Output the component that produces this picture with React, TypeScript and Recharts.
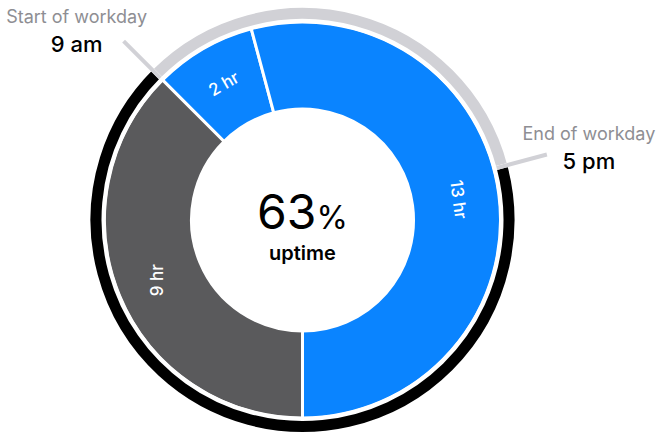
import { PieChart, Pie, Cell, Label } from 'recharts';

// inner donut: hours of the day, clockwise from 9 am
const segmentLabels = ['2 hr', '13 hr', '9 hr'];
const segmentHours = [2, 13, 9];
const segmentUp = [true, true, false];

// outer ring: workday vs the rest of the day
const ringNames = ['workday', 'off'];
const ringHours = [8, 16];

const markerCaptions = ['Start of workday', 'End of workday'];
const markerTimes = ['9 am', '5 pm'];

const uptimePct = 63;

const BLUE = '#0A84FF';
const DARK = '#5A5A5C';
const LIGHT = '#D1D1D6';
const CAPTION = '#8E8E93';
const FONT = 'Inter, "Liberation Sans", sans-serif';
const RAD = Math.PI / 180;

const CX = 302.5;
const CY = 220;

const segments = segmentLabels.map((name, i) => ({ name, value: segmentHours[i], up: segmentUp[i] }));
const ring = ringNames.map((name, i) => ({ name, value: ringHours[i] }));

function polar(cx: number, cy: number, r: number, angle: number) {
  return [cx + r * Math.cos(-angle * RAD), cy + r * Math.sin(-angle * RAD)];
}

function SegmentLabel(props: any) {
  const { cx, cy, midAngle, innerRadius, outerRadius, name } = props;
  const r = (innerRadius + outerRadius) / 2 + 3;
  const [x, y] = polar(cx, cy, r, midAngle);
  // clockwise from 12 o'clock, kept between -90 and 90 so text never flips
  let rot = ((90 - midAngle + 540) % 360) - 180;
  rot = Math.max(-90, Math.min(90, rot));
  return (
    <text
      x={x}
      y={y}
      transform={`rotate(${rot} ${x} ${y})`}
      textAnchor="middle"
      dominantBaseline="central"
      fill="#fff"
      fontSize={17}
      fontWeight={500}
      fontFamily={FONT}
    >
      {name}
    </text>
  );
}

function Marker({ cx, cy, angle, caption, time }: any) {
  const [x1, y1] = polar(cx, cy, 201, angle);
  const [x2, y2] = polar(cx, cy, 253, angle);
  const left = x2 < cx;
  const tx = left ? x2 - 47 : x2 + 42;
  const timeY = left ? y2 + 11 : y2 + 14;
  return (
    <g>
      <line x1={x1} y1={y1} x2={x2} y2={y2} stroke={LIGHT} strokeWidth={4} />
      <text x={tx} y={timeY - 29} textAnchor="middle" fill={CAPTION} fontSize={18} fontFamily={FONT}>
        {caption}
      </text>
      <text x={tx} y={timeY} textAnchor="middle" fill="#000" fontSize={22} fontWeight={500} fontFamily={FONT}>
        {time}
      </text>
    </g>
  );
}

function RingLabel(props: any) {
  const { cx, cy, startAngle, endAngle, index } = props;
  if (index !== 0) return null;
  return (
    <g>
      <Marker cx={cx} cy={cy} angle={startAngle} caption={markerCaptions[0]} time={markerTimes[0]} />
      <Marker cx={cx} cy={cy} angle={endAngle} caption={markerCaptions[1]} time={markerTimes[1]} />
    </g>
  );
}

function CenterText(props: any) {
  const vb = props.viewBox || {};
  const cx = vb.cx ?? CX;
  const cy = vb.cy ?? CY;
  return (
    <g fontFamily={FONT}>
      <text x={cx} y={cy + 9} textAnchor="middle" fill="#000">
        <tspan fontSize={48} fontWeight={400}>{uptimePct}</tspan>
        <tspan fontSize={32} fontWeight={400}>%</tspan>
      </text>
      <text x={cx} y={cy + 40} textAnchor="middle" fill="#000" fontSize={20} fontWeight={600}>
        uptime
      </text>
    </g>
  );
}

export default function App() {
  return (
    <div style={{ position: 'absolute', left: 0, top: 0, background: '#fff' }}>
      <PieChart width={659} height={433} margin={{ top: 0, right: 0, bottom: 0, left: 0 }}>
        <Pie
          data={segments}
          dataKey="value"
          nameKey="name"
          cx={CX}
          cy={CY}
          innerRadius={111}
          outerRadius={198}
          startAngle={135}
          endAngle={-225}
          stroke="#fff"
          strokeWidth={3}
          label={SegmentLabel}
          labelLine={false}
          isAnimationActive={false}
        >
          {segments.map((s, i) => (
            <Cell key={i} fill={s.up ? BLUE : DARK} />
          ))}
          <Label position="center" content={CenterText} />
        </Pie>
        <Pie
          data={ring}
          dataKey="value"
          nameKey="name"
          cx={CX}
          cy={CY}
          innerRadius={199}
          outerRadius={214}
          startAngle={135}
          endAngle={-225}
          stroke="#fff"
          strokeWidth={4}
          label={RingLabel}
          labelLine={false}
          isAnimationActive={false}
        >
          {ring.map((r, i) => (
            <Cell key={i} fill={i === 0 ? LIGHT : '#000'} />
          ))}
        </Pie>
      </PieChart>
    </div>
  );
}
